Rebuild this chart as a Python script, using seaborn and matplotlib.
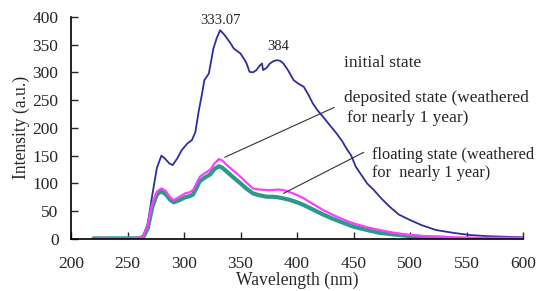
import numpy as np
import pandas as pd
import matplotlib.pyplot as plt
import seaborn as sns

# Spectra (wavelength nm, intensity a.u.)
wl_initial = [220, 230, 240, 250, 260, 264, 268, 272, 276, 280, 283, 287, 290, 294, 298, 303, 307, 310,
              313, 316, 318, 322, 326, 329, 332, 336, 341, 344, 350, 355, 358, 361, 364, 367, 369, 370,
              373, 376, 379, 382, 385, 388, 392, 397, 401, 406, 410, 414, 418, 423, 429, 435, 440, 444,
              448, 452, 456, 462, 468, 475, 482, 490, 500, 510, 523, 538, 553, 568, 583, 600]
int_initial = [1, 2, 1, 1, 2, 6, 28, 80, 128, 150, 145, 136, 133, 145, 160, 172, 178, 192,
               230, 262, 286, 298, 343, 362, 376, 367, 353, 343, 334, 318, 301, 300, 304, 312, 316, 304,
               308, 316, 320, 322, 321, 316, 304, 286, 280, 274, 260, 244, 232, 220, 205, 190, 176, 162,
               150, 130, 118, 100, 88, 72, 58, 44, 34, 25, 16, 11, 7, 5, 4, 3]

wl_deposited = [220, 230, 240, 250, 260, 264, 268, 272, 276, 280, 284, 288, 291, 296, 301, 305, 308, 311,
                314, 318, 323, 327, 331, 334, 338, 343, 350, 355, 361, 366, 373, 378, 383, 388, 394,
                400, 406, 414, 423, 432, 441, 450, 462, 473, 486, 500, 518, 538, 560, 580, 600]
int_deposited = [1, 2, 1, 1, 2, 4, 25, 64, 85, 91, 86, 74, 70, 76, 82, 84, 88, 100,
                 112, 118, 124, 136, 144, 141, 133, 124, 112, 102, 91, 89, 88, 88, 89, 88, 84,
                 79, 73, 63, 52, 43, 35, 28, 21, 16, 11, 7, 4, 3, 2, 2, 2]

wl_floating = [220, 230, 240, 250, 260, 264, 268, 272, 276, 280, 284, 288, 291, 296, 301, 305, 308, 311,
               314, 318, 323, 327, 331, 334, 338, 343, 350, 355, 361, 366, 373, 378, 383, 388, 394,
               400, 406, 414, 423, 432, 441, 450, 462, 473, 486, 500, 515, 532]
int_floating = [1, 1, 1, 1, 1, 3, 20, 58, 80, 86, 80, 70, 66, 70, 75, 77, 80, 92,
                104, 110, 116, 126, 131, 128, 121, 112, 100, 91, 82, 79, 76, 76, 75, 73, 70,
                66, 61, 53, 44, 36, 29, 22, 16, 11, 8, 5, 3, 2]

df = pd.concat([
    pd.DataFrame({'Wavelength': wl_initial, 'Intensity': int_initial, 'state': 'initial'}),
    pd.DataFrame({'Wavelength': wl_deposited, 'Intensity': int_deposited, 'state': 'deposited'}),
    pd.DataFrame({'Wavelength': wl_floating, 'Intensity': int_floating, 'state': 'floating'}),
])

sns.set_style('ticks')
plt.rcParams['font.family'] = ['Liberation Serif', 'DejaVu Serif']
plt.rcParams['xtick.direction'] = 'in'
plt.rcParams['ytick.direction'] = 'in'

fig, ax = plt.subplots(figsize=(5.42, 2.91), dpi=100)
fig.subplots_adjust(left=0.131, right=0.965, top=0.942, bottom=0.179)

# draw order: blue, teal, magenta on top
sns.lineplot(data=df[df['state'] == 'initial'], x='Wavelength', y='Intensity',
             color='#2e2e9e', linewidth=1.3, ax=ax)
sns.lineplot(data=df[df['state'] == 'floating'], x='Wavelength', y='Intensity',
             color='#2a9a8a', linewidth=3, ax=ax)
sns.lineplot(data=df[df['state'] == 'deposited'], x='Wavelength', y='Intensity',
             color='#ff3cff', linewidth=1.6, ax=ax)

ax.set_xlim(200, 600)
ax.set_ylim(0, 400)
ax.set_xticks(range(200, 601, 50))
ax.set_yticks(range(0, 401, 50))
ax.tick_params(labelsize=12.5, length=5, width=1)
ax.tick_params(axis='x', pad=12)
ax.tick_params(axis='y', pad=9)
sns.despine(ax=ax)
for sp in ['left', 'bottom']:
    ax.spines[sp].set_linewidth(1.2)
    ax.spines[sp].set_color('black')

ax.set_xlabel('Wavelength (nm)', fontsize=12.7, labelpad=0)
ax.set_ylabel('Intensity (a.u.)', fontsize=12.7, labelpad=2)

# peak labels
ax.text(332, 393, '333.07', ha='center', va='center', fontsize=10.5)
ax.text(383, 346, '384', ha='center', va='center', fontsize=10.5)

# state labels with leader lines
ax.text(442, 317, 'initial state', ha='left', va='center', fontsize=12.5)
ax.text(442, 254, 'deposited state (weathered', ha='left', va='center', fontsize=12.5)
ax.text(444, 218, 'for nearly 1 year)', ha='left', va='center', fontsize=12.5)
ax.text(466, 152, 'floating state (weathered', ha='left', va='center', fontsize=11.8)
ax.text(466, 119, 'for  nearly 1 year)', ha='left', va='center', fontsize=11.8)
ax.plot([336, 433], [147, 237], color='#333333', linewidth=0.8)
ax.plot([388, 459], [82, 156], color='#333333', linewidth=0.8)

plt.savefig('out.png', dpi=100)
